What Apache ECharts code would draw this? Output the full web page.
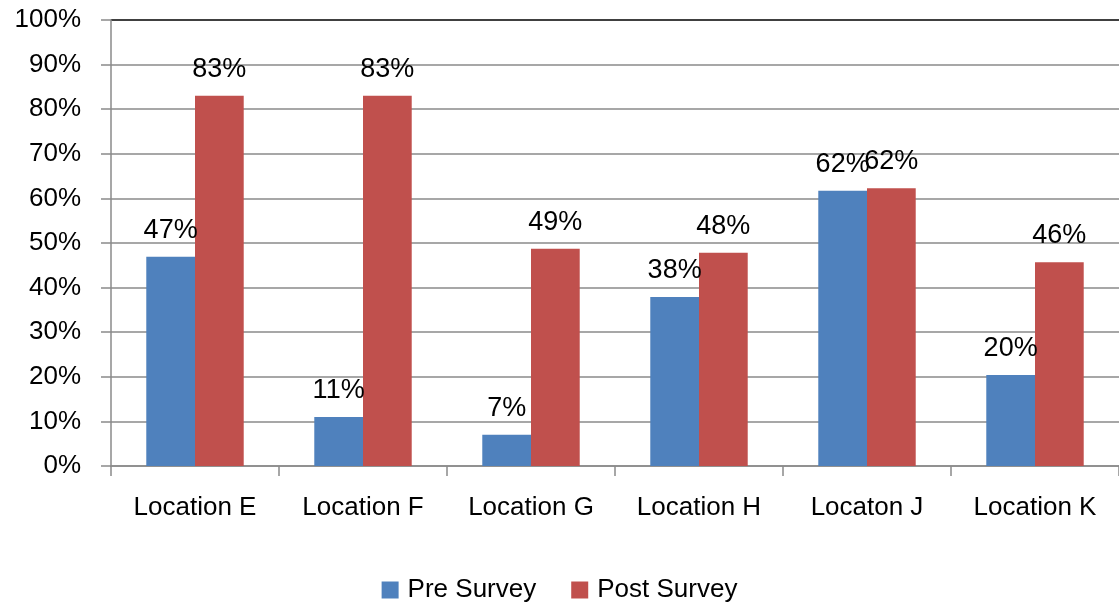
<!DOCTYPE html>
<html>
<head>
<meta charset="utf-8">
<script src="https://cdn.jsdelivr.net/npm/echarts@6/dist/echarts.min.js"></script>
<style>html,body{margin:0;padding:0;background:#fff}#c{width:1119px;height:602px}</style>
</head>
<body>
<div id="c"></div>
<script>
const categories = ['Location E', 'Location F', 'Location G', 'Location H', 'Locaton J', 'Location K'];
const preSurvey = [46.9, 11.0, 7.0, 37.9, 61.7, 20.4];
const postSurvey = [83.0, 83.0, 48.7, 47.8, 62.3, 45.7];
const seriesNames = ['Pre Survey', 'Post Survey'];
const yTicks = [0, 10, 20, 30, 40, 50, 60, 70, 80, 90, 100];

const FONT = 'Liberation Sans';
const chart = echarts.init(document.getElementById('c'));
const gridColors = yTicks.map((t, i) => i === yTicks.length - 1 ? '#000000' : '#8a8a8a');
const labelCfg = {
  show: true, position: 'top', distance: 13,
  fontFamily: FONT, fontSize: 27, color: '#000',
  formatter: p => Math.round(p.value) + '%'
};
chart.setOption({
  animation: false,
  textStyle: { fontFamily: FONT },
  grid: { left: 111, right: 0, top: 20, bottom: 136, containLabel: false },
  legend: {
    top: 572, left: 'center',
    icon: 'rect', itemWidth: 17, itemHeight: 17, itemGap: 35,
    textStyle: { fontFamily: FONT, fontSize: 26, color: '#000', padding: [0, 0, 0, 4] },
    data: seriesNames
  },
  xAxis: {
    type: 'category', data: categories,
    axisLine: { lineStyle: { color: '#8a8a8a', width: 1.5 } },
    axisTick: { show: true, length: 10, lineStyle: { color: '#8a8a8a', width: 1.5 } },
    axisLabel: { fontFamily: FONT, fontSize: 26, color: '#000', margin: 29, interval: 0 }
  },
  yAxis: {
    type: 'value', min: 0, max: 100, interval: 10,
    axisLine: { show: true, lineStyle: { color: '#8a8a8a', width: 1.5 } },
    axisTick: { show: true, length: 10, lineStyle: { color: '#8a8a8a', width: 1.5 } },
    axisLabel: { fontFamily: FONT, fontSize: 26, color: '#000', margin: 30, formatter: '{value}%' },
    splitLine: { show: true, lineStyle: { color: gridColors, width: 1.5 } }
  },
  series: [
    { name: seriesNames[0], type: 'bar', data: preSurvey, barGap: '0%', barCategoryGap: '42%',
      itemStyle: { color: '#4F81BD' }, label: labelCfg },
    { name: seriesNames[1], type: 'bar', data: postSurvey, barGap: '0%', barCategoryGap: '42%',
      itemStyle: { color: '#C0504D' }, label: labelCfg }
  ]
});
</script>
</body>
</html>
